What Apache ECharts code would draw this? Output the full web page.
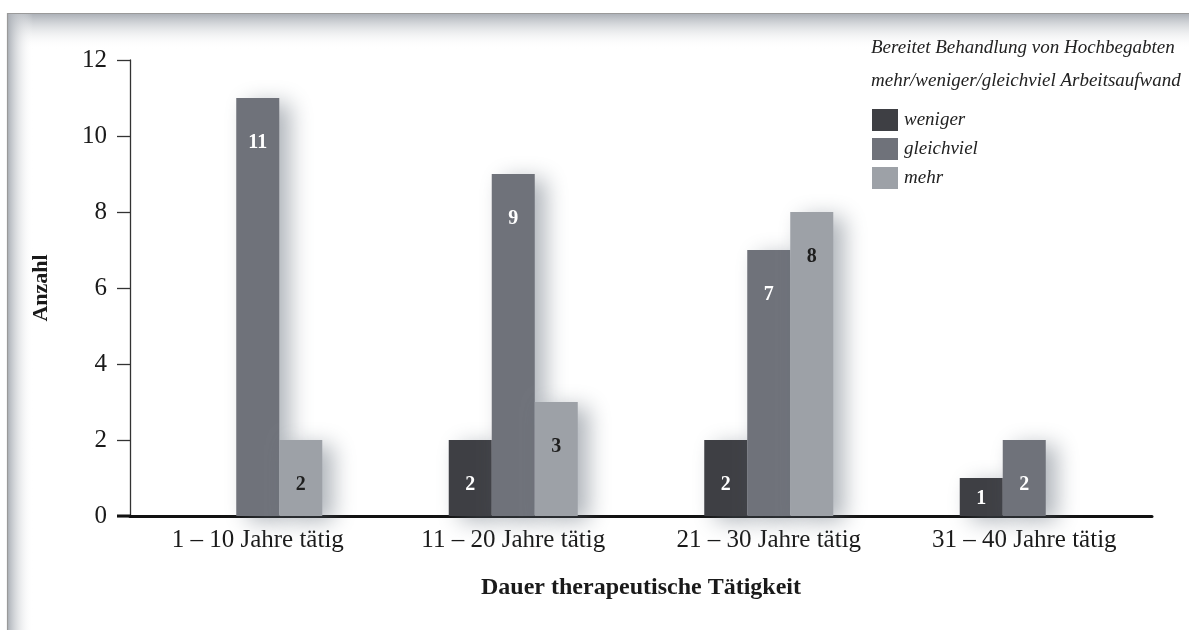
<!DOCTYPE html>
<html>
<head>
<meta charset="utf-8">
<title>Dauer therapeutische Tätigkeit</title>
<script src="https://cdn.jsdelivr.net/npm/echarts@6/dist/echarts.min.js"></script>
<style>
  html, body { margin: 0; padding: 0; background: #fff; }
  #chart { width: 1189px; height: 630px; }
</style>
</head>
<body>
<div id="chart"></div>
<script>
// Categories: years of therapeutic practice
const categories = ['1 – 10 Jahre tätig', '11 – 20 Jahre tätig', '21 – 30 Jahre tätig', '31 – 40 Jahre tätig'];
// Counts per answer (null = no bar)
const weniger    = [null, 2, 2, 1];
const gleichviel = [11, 9, 7, 2];
const mehr       = [2, 3, 8, null];
const yTicks = [0, 2, 4, 6, 8, 10, 12];

const seriesNames = ['weniger', 'gleichviel', 'mehr'];
const colors = ['#3e3f44', '#6f727a', '#9da1a7'];
const labelColors = ['#ffffff', '#ffffff', '#1e1e1e'];
const SERIF = "'Liberation Serif', 'DejaVu Serif', serif";

function toItems(values) {
  return values.map(v => {
    if (v === null) return null;
    return {
      value: v,
      label: v < 2 ? { position: 'inside', offset: [0, 2] } : { position: 'insideTop', distance: 35 }
    };
  });
}

const chart = echarts.init(document.getElementById('chart'), null, { renderer: 'canvas' });

const option = {
  backgroundColor: '#ffffff',
  animation: false,
  title: {
    text: 'Bereitet Behandlung von Hochbegabten\nmehr/weniger/gleichviel Arbeitsaufwand',
    left: 866,
    top: 26,
    textStyle: {
      fontFamily: SERIF, fontStyle: 'italic', fontWeight: 'normal',
      fontSize: 19, lineHeight: 33, color: '#222'
    }
  },
  legend: {
    orient: 'vertical',
    left: 867,
    top: 104,
    itemWidth: 26,
    itemHeight: 22,
    itemGap: 7,
    icon: 'rect',
    data: seriesNames,
    textStyle: { fontFamily: SERIF, fontStyle: 'italic', fontSize: 19, color: '#222', padding: [0, 0, 0, 1] }
  },
  grid: { left: 130, right: 37, top: 60, bottom: 114, containLabel: false },
  xAxis: {
    type: 'category',
    data: categories,
    name: 'Dauer therapeutische Tätigkeit',
    nameLocation: 'middle',
    nameGap: 60,
    nameTextStyle: { fontFamily: SERIF, fontWeight: 'bold', fontSize: 24, color: '#1a1a1a' },
    axisLine: { lineStyle: { color: '#111', width: 3 } },
    axisTick: { show: false },
    axisLabel: { fontFamily: SERIF, fontSize: 25, color: '#1a1a1a', margin: 12 }
  },
  yAxis: {
    type: 'value',
    min: 0,
    max: 12,
    interval: 2,
    name: 'Anzahl',
    nameLocation: 'middle',
    nameGap: 78,
    nameRotate: 90,
    nameTextStyle: { fontFamily: SERIF, fontWeight: 'bold', fontSize: 22, color: '#1a1a1a' },
    splitLine: { show: false },
    axisLine: { show: true, lineStyle: { color: '#333', width: 1.3 } },
    axisTick: { show: true, length: 13, lineStyle: { color: '#333', width: 1.3 } },
    axisLabel: {
      fontFamily: SERIF, fontSize: 25, color: '#1a1a1a', margin: 23,
      formatter: v => (yTicks.indexOf(v) >= 0 ? String(v) : '')
    }
  },
  graphic: [
    // soft frame shading along the top and left edges
    {
      type: 'rect', z: -10, silent: true,
      shape: { x: 7, y: 13, width: 1182, height: 36 },
      style: {
        fill: new echarts.graphic.LinearGradient(0, 0, 0, 1, [
          { offset: 0, color: 'rgba(168,173,180,1)' },
          { offset: 1, color: 'rgba(255,255,255,0)' }
        ])
      }
    },
    {
      type: 'rect', z: -10, silent: true,
      shape: { x: 7, y: 13, width: 26, height: 617 },
      style: {
        fill: new echarts.graphic.LinearGradient(0, 0, 1, 0, [
          { offset: 0, color: 'rgba(168,173,180,1)' },
          { offset: 1, color: 'rgba(255,255,255,0)' }
        ])
      }
    },
    {
      type: 'polyline', z: -5, silent: true,
      shape: { points: [[7.5, 630], [7.5, 13.5], [1189, 13.5]] },
      style: { stroke: '#9a9a9a', lineWidth: 1.2, fill: null }
    },
    // left extension of the baseline through the y tick area
    {
      type: 'line', z: 10, silent: true,
      shape: { x1: 117, y1: 516, x2: 131, y2: 516 },
      style: { stroke: '#111', lineWidth: 3 }
    }
  ],
  series: seriesNames.map((name, i) => ({
    name: name,
    type: 'bar',
    data: toItems([weniger, gleichviel, mehr][i]),
    barWidth: 43,
    barGap: '0%',
    itemStyle: {
      color: colors[i],
      shadowColor: 'rgba(95,105,118,0.5)',
      shadowBlur: 22,
      shadowOffsetX: 11,
      shadowOffsetY: 5
    },
    label: {
      show: true,
      fontFamily: SERIF,
      fontWeight: 'bold',
      fontSize: 20,
      color: labelColors[i]
    }
  }))
};

chart.setOption(option);
</script>
</body>
</html>
